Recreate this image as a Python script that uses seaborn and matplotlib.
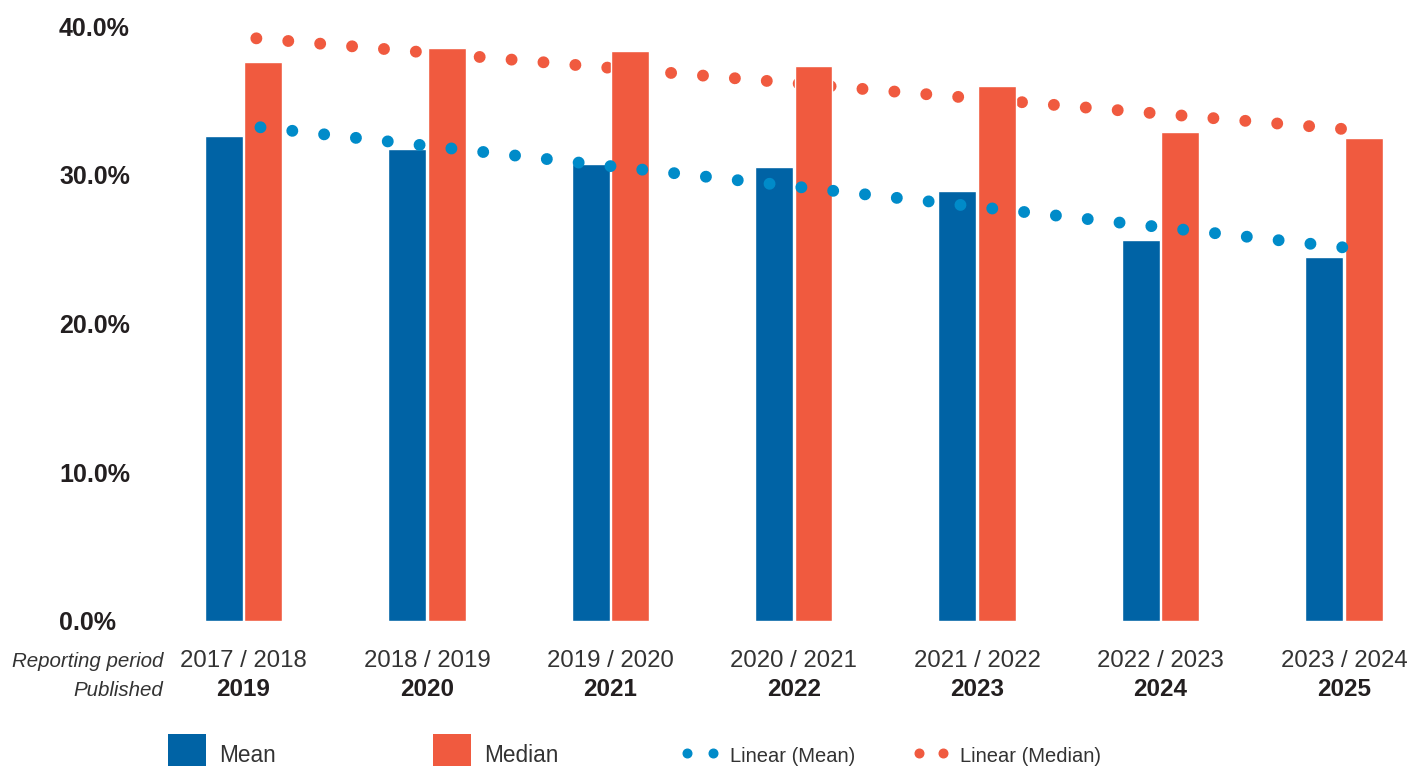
import numpy as np
import pandas as pd
import matplotlib
matplotlib.use("Agg")
import matplotlib.pyplot as plt
import seaborn as sns
from matplotlib.patches import Rectangle
from matplotlib.lines import Line2D
from matplotlib.transforms import blended_transform_factory

# ---- data -------------------------------------------------------------
periods = ["2017 / 2018", "2018 / 2019", "2019 / 2020", "2020 / 2021",
           "2021 / 2022", "2022 / 2023", "2023 / 2024"]
published = ["2019", "2020", "2021", "2022", "2023", "2024", "2025"]
mean_gap = [32.6, 31.7, 30.7, 30.5, 28.9, 25.6, 24.5]
median_gap = [37.6, 38.5, 38.3, 37.3, 36.0, 32.9, 32.5]
y_ticks = [0, 10, 20, 30, 40]
series_names = ["Mean", "Median"]
trend_names = ["Linear (Mean)", "Linear (Median)"]

# ---- style ------------------------------------------------------------
BLUE = "#0063a5"
RED = "#f05a3f"
TREND_BLUE = "#008bc9"
INK = "#231f20"
TEXT = "#333333"

sns.set_style("white")
plt.rcParams["font.family"] = ["Liberation Sans", "DejaVu Sans"]

W, H = 1413, 766
fig = plt.figure(figsize=(W / 100, H / 100), dpi=100)
fig.patch.set_facecolor("white")
ax = fig.add_axes([151.8 / W, 1 - 621 / H, 1260 / W, 595 / H])

df = pd.DataFrame({
    "period": periods * 2,
    "value": mean_gap + median_gap,
    "series": [series_names[0]] * len(periods) + [series_names[1]] * len(periods),
})

sns.barplot(data=df, x="period", y="value", hue="series",
            palette={series_names[0]: BLUE, series_names[1]: RED},
            width=0.43, gap=0.04, saturation=1, legend=False,
            ax=ax, zorder=2)

# linear trend lines drawn as round dots
idx = np.arange(len(periods))
dot_lw = 8.6
gap_units = 32 / (dot_lw * 100 / 72)
sns.regplot(x=idx, y=np.array(median_gap), scatter=False, ci=None,
            truncate=True, ax=ax,
            line_kws=dict(color=RED, lw=dot_lw,
                          linestyle=(1.6, (0.001, gap_units)),
                          dash_capstyle="round", zorder=1))
sns.regplot(x=idx, y=np.array(mean_gap), scatter=False, ci=None,
            truncate=True, ax=ax,
            line_kws=dict(color=TREND_BLUE, lw=dot_lw,
                          linestyle=(1.25, (0.001, gap_units)),
                          dash_capstyle="round", zorder=3))

ax.set_xlim(-0.5, 6.37)
ax.set_ylim(0, 40)
ax.set_xlabel("")
ax.set_ylabel("")
for s in ax.spines.values():
    s.set_visible(False)
ax.grid(False)

# y axis labels, left aligned
ax.set_yticks(y_ticks, labels=[f"{v:.1f}%" for v in y_ticks])
ax.tick_params(axis="y", length=0, pad=66.8, labelsize=18, labelcolor=INK)
for lbl in ax.get_yticklabels():
    lbl.set_horizontalalignment("left")
    lbl.set_fontweight("bold")

# two-row category labels
ax.set_xticks([])
trans = blended_transform_factory(ax.transData, fig.transFigure)
for i, (p, y) in enumerate(zip(periods, published)):
    ax.text(i, 1 - 667 / H, p, transform=trans, ha="center", va="baseline",
            fontsize=17.3, color=TEXT)
    ax.text(i, 1 - 696 / H, y, transform=trans, ha="center", va="baseline",
            fontsize=17.5, fontweight="bold", color=INK)
fig.text(163 / W, 1 - 667 / H, "Reporting period", ha="right", va="baseline",
         fontsize=14.8, style="italic", color=TEXT)
fig.text(163 / W, 1 - 696 / H, "Published", ha="right", va="baseline",
         fontsize=14.8, style="italic", color=TEXT)

# legend row
for x0, col, name in [(168, BLUE, series_names[0]), (433, RED, series_names[1])]:
    fig.add_artist(Rectangle((x0 / W, 1 - 772 / H), 38 / W, 38 / H,
                             transform=fig.transFigure, facecolor=col,
                             edgecolor="none"))
    fig.text((x0 + 51) / W, 1 - 762 / H, name, ha="left", va="baseline",
             fontsize=16.3, color=TEXT)
for (xa, xb), col, name in [((687, 713), TREND_BLUE, trend_names[0]),
                            ((919, 943), RED, trend_names[1])]:
    fig.add_artist(Line2D([xa / W, xb / W], [1 - 753 / H] * 2,
                          transform=fig.transFigure, ls="none", marker="o",
                          ms=6.2, mfc=col, mec=col))
    fig.text((xb + 17) / W, 1 - 762 / H, name, ha="left", va="baseline",
             fontsize=14.5, color=TEXT)

fig.savefig("out.png", dpi=100, facecolor="white")
